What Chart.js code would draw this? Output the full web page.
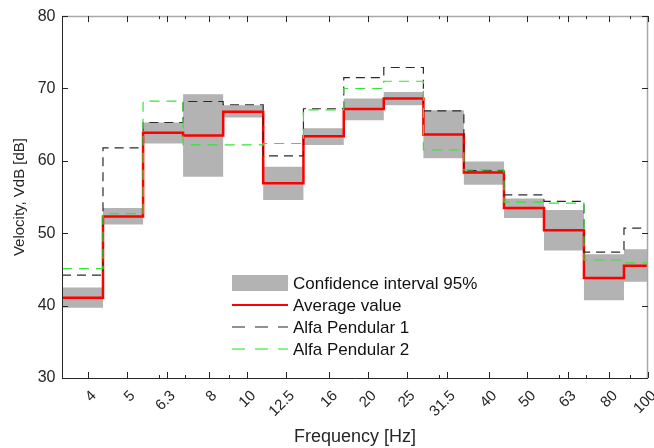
<!DOCTYPE html>
<html>
<head>
<meta charset="utf-8">
<script src="https://cdn.jsdelivr.net/npm/chart.js@4.4.0/dist/chart.umd.min.js"></script>
<style>
  html, body { margin: 0; padding: 0; background: #fff; }
  #wrap { width: 654px; height: 448px; }
</style>
</head>
<body>
<div id="wrap"><canvas id="velChart" width="654" height="448"></canvas></div>
<script>
// third octave bands shown on the axis
let tickFreqs = [4, 5, 6.3, 8, 10, 12.5, 16, 20, 25, 31.5, 40, 50, 63, 80, 100];
let tickLabels = ['4', '5', '6.3', '8', '10', '12.5', '16', '20', '25', '31.5', '40', '50', '63', '80', '100'];
let minorFreqs = [6, 7, 9, 30, 60, 70, 90];
let yTicks = [30, 40, 50, 60, 70, 80];

// where every stair step starts (Hz), last one closes the final step
let stepEdges = [3.445, 4.36, 5.49, 6.91, 8.70, 10.95, 13.8, 17.4, 21.9, 27.5, 34.7, 43.7, 55.0, 69.2, 87.1, 109.6];

// velocity levels, VdB
let avgValue = [41.1, 52.3, 63.9, 63.5, 66.8, 56.9, 63.4, 67.15, 68.6, 63.65, 58.4, 53.5, 50.4, 43.8, 45.5];
let ciUpper  = [42.5, 53.5, 65.3, 69.2, 67.7, 59.2, 64.5, 68.6, 69.5, 67.0, 59.9, 54.8, 53.2, 47.1, 47.8];
let ciLower  = [39.7, 51.2, 62.4, 57.8, 66.0, 54.6, 62.2, 65.6, 67.7, 60.35, 56.7, 52.1, 47.6, 40.75, 43.3];
let alfa1    = [44.2, 61.8, 65.3, 68.2, 67.75, 60.7, 67.2, 71.5, 72.9, 66.9, 58.65, 55.3, 54.4, 47.4, 50.7];
let alfa2    = [45.1, 52.7, 68.25, 62.2, 62.2, 62.4, 67.05, 70.0, 71.0, 61.5, 58.75, 54.3, 54.15, 46.3, 45.9];

let legendLabels = ['Confidence interval 95%', 'Average value', 'Alfa Pendular 1', 'Alfa Pendular 2'];

const FONT = '"Liberation Sans", Arial, Helvetica, sans-serif';
const TXT = '#262626';

// turn band values into stair points (last value repeated to give it width)
function stairs(values) {
  let pts = values.map((v, i) => ({x: stepEdges[i], y: v}));
  pts.push({x: stepEdges[values.length], y: values[values.length - 1]});
  return pts;
}

// box + inward ticks like the original plot
const frameTicks = {
  id: 'frameTicks',
  afterDatasetsDraw(chart) {
    const {ctx, chartArea: a, scales: {x, y}} = chart;
    ctx.save();
    ctx.lineWidth = 1.5;
    ctx.strokeStyle = '#a8a8a8';
    ctx.beginPath();
    ctx.moveTo(a.left, a.top + 0.5);
    ctx.lineTo(a.right - 0.5, a.top + 0.5);
    ctx.lineTo(a.right - 0.5, a.bottom);
    ctx.stroke();

    ctx.lineWidth = 1;
    ctx.strokeStyle = TXT;
    ctx.beginPath();
    ctx.moveTo(a.left + 0.5, a.top);
    ctx.lineTo(a.left + 0.5, a.bottom + 0.5);
    ctx.lineTo(a.right, a.bottom + 0.5);
    ctx.stroke();

    ctx.beginPath();
    tickFreqs.forEach(f => {
      let px = Math.round(x.getPixelForValue(f)) + 0.5;
      ctx.moveTo(px, a.bottom); ctx.lineTo(px, a.bottom - 6);
      ctx.moveTo(px, a.top); ctx.lineTo(px, a.top + 6);
    });
    minorFreqs.forEach(f => {
      let px = Math.round(x.getPixelForValue(f)) + 0.5;
      ctx.moveTo(px, a.bottom); ctx.lineTo(px, a.bottom - 3);
      ctx.moveTo(px, a.top); ctx.lineTo(px, a.top + 3);
    });
    yTicks.forEach(v => {
      let py = Math.round(y.getPixelForValue(v)) + 0.5;
      ctx.moveTo(a.left, py); ctx.lineTo(a.left + 6, py);
      ctx.moveTo(a.right, py); ctx.lineTo(a.right - 6, py);
    });
    ctx.stroke();
    ctx.restore();
  }
};

// legend sits inside the plot, drawn by hand
const boxLegend = {
  id: 'boxLegend',
  afterDraw(chart) {
    const ctx = chart.ctx;
    const x0 = 232, w = 56, rowY = [283, 305, 327, 349];
    ctx.save();
    ctx.fillStyle = '#b3b3b3';
    ctx.fillRect(x0, 275, w, 16);

    ctx.lineWidth = 2;
    ctx.strokeStyle = '#ff0000';
    ctx.beginPath(); ctx.moveTo(x0, rowY[1]); ctx.lineTo(x0 + w, rowY[1]); ctx.stroke();

    ctx.lineWidth = 1.5;
    ctx.setLineDash([13, 10]);
    ctx.strokeStyle = '#6e6e6e';
    ctx.beginPath(); ctx.moveTo(x0, rowY[2]); ctx.lineTo(x0 + w, rowY[2]); ctx.stroke();
    ctx.strokeStyle = '#66ee66';
    ctx.beginPath(); ctx.moveTo(x0, rowY[3]); ctx.lineTo(x0 + w, rowY[3]); ctx.stroke();
    ctx.setLineDash([]);

    ctx.fillStyle = '#111';
    ctx.font = '17px ' + FONT;
    ctx.textBaseline = 'middle';
    legendLabels.forEach((t, i) => ctx.fillText(t, x0 + w + 5, rowY[i] + 1));
    ctx.restore();
  }
};

let ctx = document.getElementById('velChart').getContext('2d');
new Chart(ctx, {
  type: 'line',
  data: {
    datasets: [
      {label: legendLabels[3], data: stairs(alfa2), borderColor: '#33e633', borderWidth: 1.2, borderDash: [10, 7]},
      {label: legendLabels[2], data: stairs(alfa1), borderColor: '#2a2a2a', borderWidth: 1.2, borderDash: [9, 6]},
      {label: legendLabels[1], data: stairs(avgValue), borderColor: '#ff0000', borderWidth: 2.5},
      {label: 'ci upper', data: stairs(ciUpper), borderColor: 'rgba(0,0,0,0)', borderWidth: 0, backgroundColor: '#b3b3b3', fill: '+1'},
      {label: 'ci lower', data: stairs(ciLower), borderColor: 'rgba(0,0,0,0)', borderWidth: 0, fill: false}
    ]
  },
  options: {
    responsive: false,
    animation: false,
    devicePixelRatio: 1,
    layout: {padding: {top: 15, right: 6, left: 0, bottom: 0}},
    elements: {
      point: {radius: 0, hoverRadius: 0},
      line: {stepped: true, tension: 0}
    },
    plugins: {
      legend: {display: false},
      tooltip: {enabled: false}
    },
    scales: {
      x: {
        type: 'logarithmic',
        min: 3.445,
        max: 100,
        afterBuildTicks: s => { s.ticks = tickFreqs.map(v => ({value: v})); },
        afterFit: s => { s.height = 70; s.paddingLeft = 0; s.paddingRight = 0; },
        grid: {display: false, drawTicks: false},
        border: {display: false},
        ticks: {
          autoSkip: false,
          minRotation: 45,
          maxRotation: 45,
          padding: 9,
          labelOffset: 6,
          color: TXT,
          font: {family: FONT, size: 15},
          callback: (v, i) => tickLabels[i]
        },
        title: {display: true, text: 'Frequency [Hz]', color: TXT, font: {family: FONT, size: 18}, padding: {top: 0, bottom: 0}}
      },
      y: {
        min: 30,
        max: 80,
        afterBuildTicks: s => { s.ticks = yTicks.map(v => ({value: v})); },
        afterFit: s => { s.width = 62; },
        grid: {display: false, drawTicks: false},
        border: {display: false},
        ticks: {padding: 6.5, color: TXT, font: {family: FONT, size: 16}},
        title: {display: true, text: 'Velocity, VdB [dB]', color: TXT, font: {family: FONT, size: 15}, padding: {top: 11, bottom: 0}}
      }
    }
  },
  plugins: [frameTicks, boxLegend]
});
</script>
</body>
</html>
